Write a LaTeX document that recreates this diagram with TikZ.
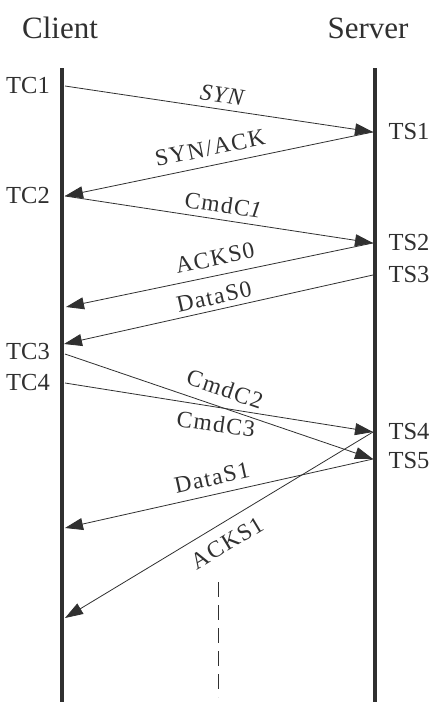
\documentclass[tikz,border=0pt]{standalone}
\usepackage{fontspec}
\setmainfont{Liberation Serif}
\newfontfamily\msgfont[LetterSpace=6]{Liberation Serif}
\usetikzlibrary{arrows.meta}
\definecolor{ink}{HTML}{303030}
\begin{document}
\begin{tikzpicture}[x=1pt,y=-1pt,
  lifeline/.style={draw=ink,line width=4pt},
  msg/.style={draw=ink,line width=0.8pt,-{Triangle[length=18pt,width=12pt]}},
  head/.style={font=\fontsize{31}{35}\selectfont,text=ink,inner sep=0pt},
  tlabel/.style={font=\fontsize{24.5}{28}\selectfont,text=ink,inner sep=0pt},
  mlabel/.style={font=\msgfont\fontsize{23.5}{27}\selectfont,text=ink,inner sep=0pt}]
\useasboundingbox (0,0) rectangle (439,707);
\fill[white] (0,0) rectangle (439,707);
% lifelines
\coordinate (ctop) at (62,68);
\coordinate (cbot) at (62,702);
\coordinate (stop) at (375,68);
\coordinate (sbot) at (375,702);
\draw[lifeline] (ctop) -- (cbot);
\draw[lifeline] (stop) -- (sbot);
\node[head] (client) at (60,28) {Client};
\node[head] (server) at (368,28) {Server};
% client points
\coordinate (tc1) at (65,86);
\coordinate (tc2) at (65,196);
\coordinate (tc3) at (65,354);
\coordinate (tc4) at (65,383);
\coordinate (ackszero) at (66,307);
\coordinate (dataszero) at (64,344);
\coordinate (datasone) at (65,528);
\coordinate (acksone) at (65,618);
% server points
\coordinate (ts1) at (373,132);
\coordinate (ts2) at (373,243);
\coordinate (ts3) at (373,275);
\coordinate (ts4) at (373,432);
\coordinate (ts5) at (373,459);
% time labels
\node[tlabel] (ltc1) at (28,86) {TC1};
\node[tlabel] (ltc2) at (28,196) {TC2};
\node[tlabel] (ltc3) at (28,352) {TC3};
\node[tlabel] (ltc4) at (28,383) {TC4};
\node[tlabel] (lts1) at (409,132) {TS1};
\node[tlabel] (lts2) at (409,243) {TS2};
\node[tlabel] (lts3) at (409,275) {TS3};
\node[tlabel] (lts4) at (409,432) {TS4};
\node[tlabel] (lts5) at (409,461) {TS5};
% messages
\draw[msg] (tc1) -- (ts1);
\draw[msg] (ts1) -- (tc2);
\draw[msg] (tc2) -- (ts2);
\draw[msg] (ts2) -- (ackszero);
\draw[msg] (ts3) -- (dataszero);
\draw[msg] (tc3) -- (ts5);
\draw[msg] (tc4) -- (ts4);
\draw[msg] (ts5) -- (datasone);
\draw[msg] (ts4) -- (acksone);
% message labels
\node[mlabel,rotate=-8.5] (lsyn) at (222,95) {\itshape SYN};
\node[mlabel,rotate=11.6] (lsynack) at (210,148) {SYN/ACK};
\node[mlabel,rotate=-8.5] (lcmdc1) at (224,205) {CmdC\textit{1}};
\node[mlabel,rotate=11.9] (lacks0) at (215,258) {ACKS0};
\node[mlabel,rotate=12.8] (ldatas0) at (214,297) {DataS0};
\node[mlabel,rotate=-18.8] (lcmdc2) at (225,389) {CmdC2};
\node[mlabel,rotate=-8] (lcmdc3) at (216,424) {CmdC3};
\node[mlabel,rotate=12.4] (ldatas1) at (212,478) {DataS1};
\node[mlabel,rotate=31] (lacks1) at (227,543) {ACKS1};
% dashed continuation
\coordinate (dtop) at (218,582);
\coordinate (dbot) at (218,697);
\draw[draw=ink,line width=0.8pt,dash pattern=on 15pt off 8pt] (dtop) -- (dbot);
\end{tikzpicture}
\end{document}
